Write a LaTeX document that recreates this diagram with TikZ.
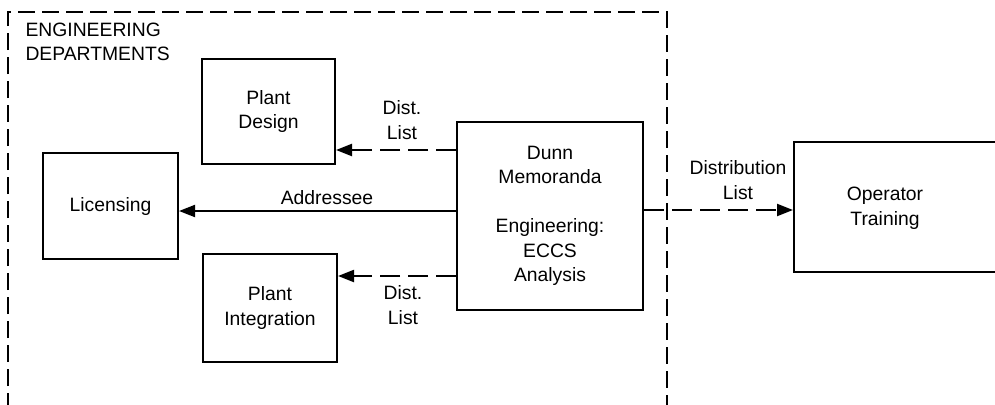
\documentclass[tikz,border=0pt]{standalone}
\usepackage{fontspec}
\setmainfont{Liberation Sans}
\usetikzlibrary{arrows.meta}

\tikzset{every picture/.style={line width=0.75pt}}
\tikzset{
  dept/.style={draw, line width=1.5pt, rectangle, align=center, inner sep=0pt},
  lbl/.style={inner sep=0.75pt, align=center},
  distlink/.style={line width=1.6pt, dash pattern={on 15pt off 6pt}, -{Triangle[length=12pt,width=9pt]}},
  mainlink/.style={line width=1.4pt, -{Triangle[length=12pt,width=9pt]}}
}

\begin{document}
\begin{tikzpicture}[x=0.75pt,y=0.75pt,yscale=-1,xscale=1,
  font=\fontsize{14.5}{18.5}\selectfont]
\useasboundingbox (0,0) rectangle (995,404);

%Dashed boundary of the engineering departments
\draw [dash pattern={on 13pt off 5pt}, line width=0.9pt] (8,410) -- (8,12) -- (667,12) -- (667,410) ;
% Text Node
\node (eng) [lbl, anchor=north west, align=left] at (24,21) {ENGINEERING\\DEPARTMENTS};

% Boxes
\node (design) [dept, minimum width=0.75*133pt, minimum height=0.75*105pt] at (268.5,111.5) {Plant\\Design};
\node (licensing) [dept, minimum width=0.75*135pt, minimum height=0.75*106pt] at (110.5,206) {Licensing};
\node (integration) [dept, minimum width=0.75*134pt, minimum height=0.75*108pt] at (270,308) {Plant\\Integration};
\node (dunn) [dept, minimum width=0.75*186pt, minimum height=0.75*188pt] at (550,216) {Dunn\\Memoranda\\[18pt]Engineering:\\ECCS\\Analysis};
\node (operator) [dept, minimum width=0.75*230pt, minimum height=0.75*130pt, anchor=west] at (793,206.5) {};
\node (optext) [lbl] at (885,208) {Operator\\Training};

% Connectors
\draw [distlink] (dunn.west |- 0,150) -- (design.east |- 0,150) ;
\draw [mainlink] (dunn.west |- 0,211) -- (licensing.east |- 0,211) ;
\draw [distlink] (dunn.west |- 0,276) -- (integration.east |- 0,276) ;
\draw [distlink] (dunn.east |- 0,210) -- (operator.west |- 0,210) ;

% Connector labels
\node (distA) [lbl] at (402,120) {Dist.\\List};
\node (addr) [lbl] at (327,198) {Addressee};
\node (distB) [lbl] at (403,305) {Dist.\\List};
\node (distC) [lbl] at (738,180) {Distribution\\List};

\end{tikzpicture}
\end{document}
